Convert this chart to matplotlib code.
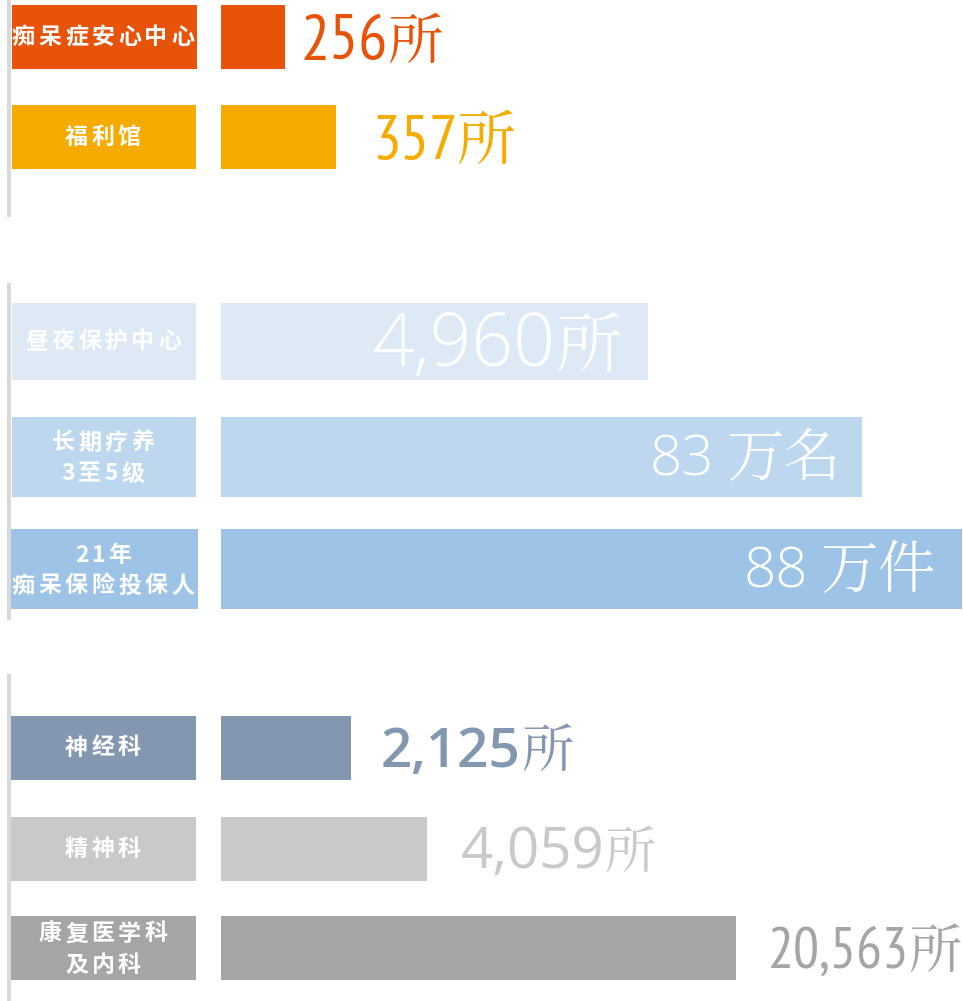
import matplotlib
matplotlib.use("Agg")
import matplotlib.pyplot as plt

# ---------------- data ----------------
categories = ["痴呆症安心中心", "福利馆", "昼夜保护中心", "长期疗养\n3至5级",
              "21年\n痴呆保险投保人", "神经科", "精神科", "康复医学科\n及内科"]
values = [256, 357, 4960, 83, 88, 2125, 4059, 20563]
units = ["所", "所", "所", "万名", "万件", "所", "所", "所"]
# displayed bar lengths as drawn in the infographic (not proportional to values)
bar_lengths = [64, 115, 427, 641, 741, 130, 206, 515]

# ---------------- layout / style ----------------
colors = ["#E8530A", "#F5AB00", "#DDEAF6", "#BDD7EE", "#9DC3E6",
          "#8497B0", "#C9C9C9", "#A5A5A5"]
row_y = [37, 137, 341.5, 457, 569, 748, 849, 948]
row_h = [64, 64, 77, 80, 80, 64, 64, 64]
box_left = [12, 12, 12, 12, 10, 10, 10, 10]
box_w = [185, 184, 184, 184, 188, 186, 186, 186]
inside = [False, False, True, True, True, False, False, False]
digit_h = [46, 45, 52, 40, 40, 39, 40, 41]      # px
unit_h = [50, 53, 60, 52, 52, 47, 46, 48]       # px
val_offset = [16, 36, -26, -20, -26, 30, 34, 32]
num_gap = [-1, -1, 0, 12, 12, 0, 0, -1]
digit_font = ["PT Sans Narrow", "PT Sans Narrow", "Open Sans", "Open Sans", "Open Sans",
              "Open Sans", "Open Sans", "PT Sans Narrow"]
digit_weight = [400, 400, 300, 300, 300, 600, 400, 400]
unit_weight = [400, 400, 300, 300, 300, 400, 400, 400]

W, H = 963, 1001
PX = 0.72  # points per pixel at dpi 100
fig = plt.figure(figsize=(W / 100, H / 100), dpi=100)
ax = fig.add_axes([0, 0, 1, 1])
ax.set_xlim(0, W)
ax.set_ylim(H, 0)
ax.axis("off")

bar_left = 221
ax.barh(row_y, bar_lengths, left=bar_left, height=row_h, color=colors, linewidth=0)
ax.barh(row_y, box_w, left=box_left, height=row_h, color=colors, linewidth=0)

# group separator lines
for y0, y1 in [(0, 217), (283, 620), (674, 1001)]:
    ax.plot([9, 9], [y0, y1], color="#D9D9D9", lw=4 * PX, solid_capstyle="butt")

# category labels (white, bold, letter-spaced), drawn char by char
LABEL_EM = 23
LABEL_SP = 3.5


def draw_line(xc, yc, line):
    widths = [LABEL_EM * 0.57 if ch.isascii() else LABEL_EM for ch in line]
    total = sum(widths) + LABEL_SP * (len(line) - 1)
    x = xc - total / 2
    for ch, w in zip(line, widths):
        ax.text(x + w / 2, yc, ch, ha="center", va="center", color="white",
                fontsize=LABEL_EM * PX, fontweight="bold",
                family=["Noto Sans CJK SC", "DejaVu Sans"])
        x += w + LABEL_SP


for i, cat in enumerate(categories):
    lines = cat.split("\n")
    if len(lines) == 1:
        draw_line(103, row_y[i], lines[0])
    else:
        draw_line(103, row_y[i] - 14, lines[0])
        draw_line(103, row_y[i] + 17, lines[1])

# value labels: number and unit as two texts
num_texts = []
unit_texts = []
ufont = ["Noto Serif CJK JP", "Noto Sans CJK JP"]
for i in range(len(values)):
    base = row_y[i] + digit_h[i] / 2 - 1
    col = "white" if inside[i] else colors[i]
    nfont = [digit_font[i], "DejaVu Sans"]
    num_fs = digit_h[i] / 0.71 * PX
    unit_fs = unit_h[i] / 0.9 * PX
    if inside[i]:
        x_end = bar_left + bar_lengths[i] + val_offset[i]
        ut = ax.text(x_end, base, units[i], ha="right", va="baseline", color=col,
                     fontsize=unit_fs, fontweight=unit_weight[i], family=ufont)
        nt = ax.text(x_end, base, f"{values[i]:,}", ha="right", va="baseline", color=col,
                     fontsize=num_fs, fontweight=digit_weight[i], family=nfont)
    else:
        x0 = bar_left + bar_lengths[i] + val_offset[i]
        nt = ax.text(x0, base, f"{values[i]:,}", ha="left", va="baseline", color=col,
                     fontsize=num_fs, fontweight=digit_weight[i], family=nfont)
        ut = ax.text(x0, base, units[i], ha="left", va="baseline", color=col,
                     fontsize=unit_fs, fontweight=unit_weight[i], family=ufont)
    num_texts.append(nt)
    unit_texts.append(ut)

fig.canvas.draw()
r = fig.canvas.get_renderer()
inv = ax.transData.inverted()
for i in range(len(values)):
    nt, ut = num_texts[i], unit_texts[i]
    if inside[i]:
        bb = ut.get_window_extent(r)
        xd = inv.transform((bb.x0, bb.y0))[0]
        nt.set_x(xd - num_gap[i])
    else:
        bb = nt.get_window_extent(r)
        xd = inv.transform((bb.x1, bb.y0))[0]
        ut.set_x(xd + num_gap[i])

fig.savefig("out.png", dpi=100)
